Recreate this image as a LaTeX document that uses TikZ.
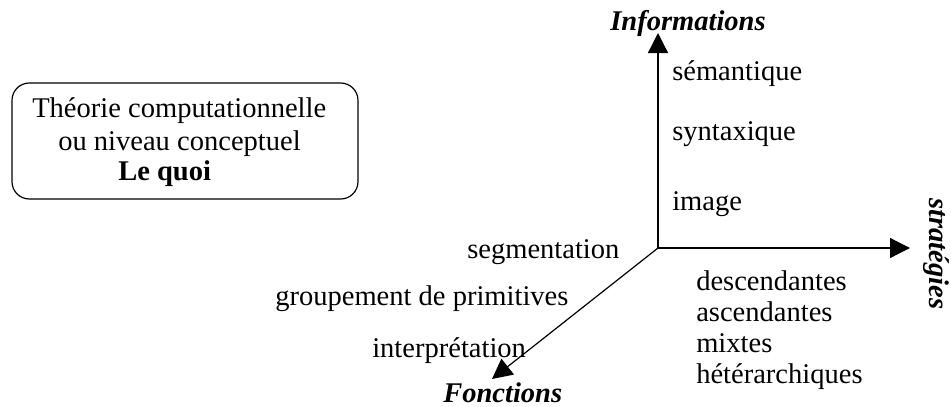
\documentclass[tikz,border=0pt]{standalone}
\usepackage{fontspec}
\setmainfont{Liberation Serif}
\usetikzlibrary{arrows.meta}
\begin{document}
\begin{tikzpicture}[x=0.75pt,y=-0.75pt,
  lbl/.style={inner sep=0pt,anchor=base west,font=\fontsize{21.4}{25}\selectfont},
  ttl/.style={inner sep=0pt,anchor=base,font=\fontsize{21.4}{25}\selectfont\bfseries\itshape},
  axis/.style={line width=0.9pt,-{Triangle[length=15pt,width=15pt]}},
  frame/.style={draw,line width=0.9pt,rounded corners=13pt}]
\useasboundingbox (0,0) rectangle (951,407);
% box
\node[frame,minimum width=346*0.75pt,minimum height=116*0.75pt,inner sep=0pt] (box) at (185,141) {};
\node[lbl] (t1) at (32,117) {Théorie computationnelle};
\node[lbl] (t2) at (58,150) {ou niveau conceptuel};
\node[lbl,font=\fontsize{21.4}{25}\selectfont\bfseries] (t3) at (118,180) {Le quoi};
% axes
\coordinate (o) at (658,248);
\coordinate (up) at (658,33);
\coordinate (rt) at (910,248);
\coordinate (dl) at (492,379);
\draw[axis] (o) -- (up);
\draw[axis] (o) -- (rt);
\draw[axis] (o) -- (dl);
% titles
\node[ttl] (inf) at (688,31) {Informations};
\node[ttl,anchor=base west] (fon) at (443,402) {Fonctions};
\node[inner sep=0pt,anchor=base west,rotate=-90,font=\fontsize{21.4}{25}\selectfont\bfseries\itshape] (str) at (929,198) {stratégies};
% information labels
\node[lbl] (sem) at (672,80) {sémantique};
\node[lbl] (syn) at (672,140) {syntaxique};
\node[lbl] (img) at (672,210) {image};
% function labels
\node[lbl] (seg) at (467,258) {segmentation};
\node[lbl] (grp) at (275,305) {groupement de primitives};
\node[lbl] (int) at (372,357) {interprétation};
% strategies labels
\node[lbl] (des) at (696,290) {descendantes};
\node[lbl] (asc) at (696,321) {ascendantes};
\node[lbl] (mix) at (696,352) {mixtes};
\node[lbl] (het) at (696,383) {hétérarchiques};
\end{tikzpicture}
\end{document}
